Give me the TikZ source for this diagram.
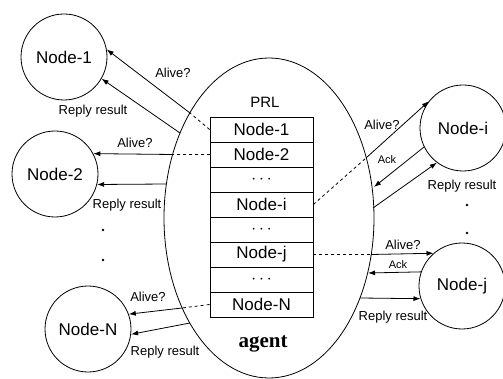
\documentclass[tikz,border=0pt]{standalone}
\usepackage{fontspec}
\setmainfont{Liberation Sans}
\newfontfamily\agentfont{Liberation Serif}
\usetikzlibrary{arrows.meta}

\begin{document}
\begin{tikzpicture}[x=1pt,y=-1pt,line width=0.8pt,>={Latex[length=7pt,width=5pt]},
  host/.style={circle,draw = black,minimum size=86,inner sep=0,font=\fontsize{17}{17}\selectfont},
  prlrow/.style={rectangle,draw = black,minimum width=103,minimum height=25,inner sep=0,font=\fontsize{17}{17}\selectfont},
  msg/.style={inner sep=1,font=\fontsize{13}{13}\selectfont},
  ackmsg/.style={inner sep=1,font=\fontsize{11}{11}\selectfont}]
\useasboundingbox (0,0) rectangle (503,379);
% agent with its PRL
\draw (269,218) ellipse [x radius=105, y radius=160];
\node(prl) at (265,102){\fontsize{15}{15}\selectfont PRL};
\node(ag) at (263,344){\agentfont\bfseries\fontsize{21}{21}\selectfont agent};
\node[prlrow](p1) at (261.5,129.5){Node-1};
\node[prlrow](p2) at (261.5,154.5){Node-2};
\node[prlrow](p3) at (261.5,179.5){$\cdots$};
\node[prlrow](p4) at (261.5,204.5){Node-i};
\node[prlrow](p5) at (261.5,229.5){$\cdots$};
\node[prlrow](p6) at (261.5,254.5){Node-j};
\node[prlrow](p7) at (261.5,279.5){$\cdots$};
\node[prlrow](p8) at (261.5,304.5){Node-N};
% nodes
\node[host](n1) at (64,57){Node-1};
\node[host](n2) at (55,174){Node-2};
\node[host](nN) at (88,329){Node-N};
\node[host](ni) at (463,128){Node-i};
\node[host](nj) at (462,286){Node-j};
\fill (103,230) circle (1.3);
\fill (103,260) circle (1.3);
\fill (467,205) circle (1.3);
\fill (467,233) circle (1.3);
% points on the agent border
\coordinate(a1) at (190,113);
\coordinate(c2) at (180,133);
\coordinate(a3) at (172.8,154.5);
\coordinate(c4) at (166.4,184);
\coordinate(a5) at (182,308);
\coordinate(c6) at (190,323);
\coordinate(a7) at (366,158);
\coordinate(b8) at (374,187);
\coordinate(c9) at (373,208);
\coordinate(a10) at (371,254.5);
\coordinate(b11) at (368,273);
\coordinate(c12) at (360,298);
% left side
\draw[dashed](p1.west)--(a1);
\draw[->](a1)--(n1.10);
\draw[->](c2)--(n1.-30);
\draw[dashed](p2.west)--(a3);
\draw[->](a3)--(n2.28);
\draw[->](c4)--(n2.-14);
\draw[dashed](p8.west)--(a5);
\draw[->](a5)--(nN.20);
\draw[->](c6)--(nN.-7);
% right side
\draw[dashed](p4.east)--(a7);
\draw[->](a7)--(ni.142);
\draw[->](ni.206)--(b8);
\draw[->](c9)--(ni.233);
\draw[dashed](p6.east)--(a10);
\draw[->](a10)--(nj.131);
\draw[->](nj.161)--(b11);
\draw[->](c12)--(nj.197);
% labels
\node[msg](l1) at (173,73){Alive?};
\node[msg](l2) at (93,111){Reply result};
\node[msg](l3) at (135,143){Alive?};
\node[msg](l4) at (127,205){Reply result};
\node[msg](l5) at (148,297){Alive?};
\node[msg](l6) at (165,352){Reply result};
\node[msg](l7) at (382,125){Alive?};
\node[ackmsg](l8) at (387,160){Ack};
\node[msg](l9) at (462,186){Reply result};
\node[msg](l10) at (403,245){Alive?};
\node[ackmsg](l11) at (398,265){Ack};
\node[msg](l12) at (393,317){Reply result};
\end{tikzpicture}
\end{document}
